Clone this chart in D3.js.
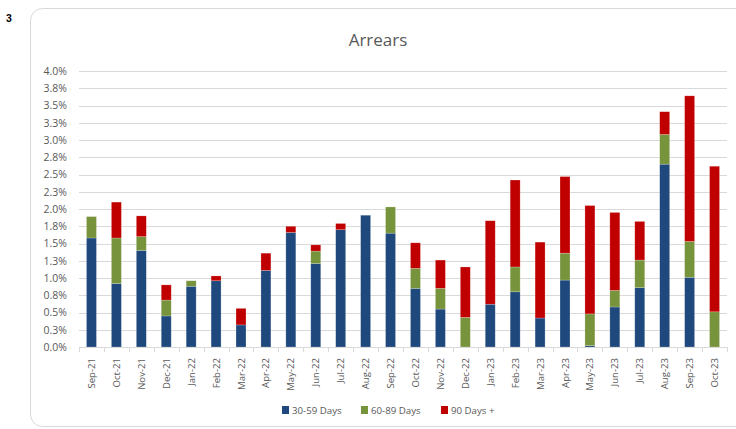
<!DOCTYPE html>
<html>
<head>
<meta charset="utf-8">
<script src="https://cdn.jsdelivr.net/npm/d3@7"></script>
<style>
  html, body { margin: 0; padding: 0; background: #fff; }
  svg { display: block; }
</style>
</head>
<body>
<svg id="chart" width="736" height="429"></svg>
<script>
const months = ["Sep-21","Oct-21","Nov-21","Dec-21","Jan-22","Feb-22","Mar-22","Apr-22","May-22","Jun-22","Jul-22","Aug-22","Sep-22","Oct-22","Nov-22","Dec-22","Jan-23","Feb-23","Mar-23","Apr-23","May-23","Jun-23","Jul-23","Aug-23","Sep-23","Oct-23"];
const days30_59 = [1.58,0.92,1.40,0.45,0.88,0.96,0.32,1.11,1.66,1.21,1.70,1.91,1.65,0.85,0.55,0.00,0.62,0.80,0.42,0.97,0.02,0.58,0.86,2.65,1.01,0.00];
const days60_89 = [0.31,0.66,0.20,0.23,0.08,0.00,0.00,0.00,0.00,0.18,0.00,0.00,0.38,0.29,0.30,0.43,0.00,0.36,0.00,0.39,0.46,0.24,0.40,0.43,0.52,0.51];
const days90 = [0.00,0.52,0.30,0.22,0.00,0.07,0.24,0.25,0.09,0.09,0.09,0.00,0.00,0.37,0.41,0.73,1.21,1.26,1.10,1.11,1.57,1.13,0.56,0.33,2.11,2.11];
const seriesNames = ["30-59 Days","60-89 Days","90 Days +"];
const seriesColors = ["#1f497d","#77933c","#c00000"];
const yTicks = d3.range(0, 4.0001, 0.25);

const svg = d3.select("#chart");
const font = "'Open Sans', sans-serif";
const textColor = "#595959";

// page label and card
svg.append("text").attr("x", 6).attr("y", 22).attr("font-family", "'Liberation Sans', Arial, sans-serif")
  .attr("font-weight", "bold").attr("font-size", 10.5).attr("fill", "#000").text("3");
svg.append("rect").attr("x", 30.5).attr("y", 8.5).attr("width", 720).attr("height", 418)
  .attr("rx", 12).attr("ry", 12).attr("fill", "#fff").attr("stroke", "#d9d9d9").attr("stroke-width", 1);

// title
svg.append("text").attr("x", 378).attr("y", 46).attr("text-anchor", "middle")
  .attr("font-family", font).attr("font-size", 17).attr("fill", textColor).text("Arrears");

const x = d3.scaleBand().domain(months).range([79, 727]).paddingInner(0.6).paddingOuter(0.3);
const y = d3.scaleLinear().domain([0, 4]).range([347, 71]);

// gridlines
svg.append("g").selectAll("line").data(yTicks.slice(1)).join("line")
  .attr("x1", 79).attr("x2", 727)
  .attr("y1", d => Math.round(y(d)) + 0.5).attr("y2", d => Math.round(y(d)) + 0.5)
  .attr("stroke", "#d9d9d9").attr("stroke-width", 1);

// y labels
svg.append("g").selectAll("text").data(yTicks).join("text")
  .attr("x", 67).attr("y", d => y(d) + 3.8).attr("text-anchor", "end")
  .attr("font-family", font).attr("font-size", 10.5).attr("fill", textColor)
  .text(d => d3.format(".1f")(d) + "%");

// stacked bars
const table = months.map((m, i) => ({ month: m, s0: days30_59[i], s1: days60_89[i], s2: days90[i] }));
const stack = d3.stack().keys(["s0","s1","s2"])(table);
svg.append("g").selectAll("g").data(stack).join("g")
  .attr("fill", (d, i) => seriesColors[i])
  .selectAll("rect").data(d => d.filter(p => p[1] - p[0] > 0)).join("rect")
  .attr("x", d => x(d.data.month))
  .attr("width", x.bandwidth())
  .attr("y", d => y(d[1]))
  .attr("height", d => y(d[0]) - y(d[1]))
  .attr("stroke", "rgba(255,255,255,0.35)").attr("stroke-width", 0.6);

// x axis line and ticks
const step = (727 - 79) / months.length;
svg.append("line").attr("x1", 79).attr("x2", 727).attr("y1", 347.5).attr("y2", 347.5)
  .attr("stroke", "#d9d9d9").attr("stroke-width", 1);
svg.append("g").selectAll("line").data(d3.range(months.length + 1)).join("line")
  .attr("x1", i => Math.round(79 + i * step) + 0.5).attr("x2", i => Math.round(79 + i * step) + 0.5)
  .attr("y1", 347).attr("y2", 352).attr("stroke", "#d9d9d9").attr("stroke-width", 1);

// x labels
svg.append("g").selectAll("text").data(months).join("text")
  .attr("transform", d => `translate(${x(d) + x.bandwidth() / 2 + 3.5},358) rotate(-90)`)
  .attr("text-anchor", "end")
  .attr("font-family", font).attr("font-size", 9.6).attr("fill", textColor).text(d => d);

// legend
const legendX = [282, 361, 441];
const lg = svg.append("g").selectAll("g").data(seriesNames).join("g")
  .attr("transform", (d, i) => `translate(${legendX[i]},406)`);
lg.append("rect").attr("width", 7).attr("height", 8).attr("fill", (d, i) => seriesColors[i]);
lg.append("text").attr("x", 10).attr("y", 7.5).attr("font-family", font).attr("font-size", 9.7)
  .attr("fill", textColor).text(d => d);
</script>
</body>
</html>
